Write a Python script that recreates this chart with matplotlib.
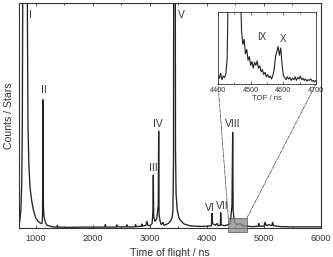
import numpy as np
import matplotlib
matplotlib.use("Agg")
import matplotlib.pyplot as plt
from matplotlib.patches import Rectangle, ConnectionPatch
from matplotlib.ticker import MultipleLocator, NullLocator

plt.rcParams['font.family'] = ['Liberation Sans', 'DejaVu Sans']

# main spectrum (time of flight in ns, normalised counts; >1 means off-scale)
tof = [700, 720, 740, 755, 765, 772, 780, 850, 855, 865, 880, 900, 930, 960, 1000,
       1040, 1080, 1110, 1120, 1127, 1135, 1145, 1170, 1200, 1300, 1370, 1380, 1390,
       1600, 1800, 2000, 2210, 2220, 2230, 2410, 2420, 2430, 2590, 2600, 2610, 2740,
       2750, 2760, 2850, 2860, 2870, 2930, 2950, 2965, 3000, 3040, 3055, 3061, 3068,
       3090, 3120, 3148, 3155, 3162, 3180, 3200, 3230, 3250, 3280, 3320, 3360, 3390,
       3405, 3415, 3420, 3445, 3450, 3460, 3480, 3510, 3550, 3600, 3700, 3800, 3900,
       4000, 4080, 4090, 4098, 4150, 4180, 4200, 4236, 4242, 4250, 4300, 4380, 4410,
       4440, 4452, 4460, 4480, 4520, 4590, 4620, 4700, 4800, 4900, 4910, 4920, 5000,
       5020, 5040, 5080, 5140, 5150, 5170, 5300, 5500, 5700, 6000]
counts = [0.01, 0.03, 0.08, 0.2, 0.45, 1.0, 1.5, 1.5, 0.9, 0.45, 0.28, 0.18, 0.12, 0.08, 0.045,
          0.03, 0.022, 0.02, 0.06, 0.57, 0.10, 0.05, 0.025, 0.012, 0.005, 0.004, 0.012, 0.004,
          0.003, 0.004, 0.004, 0.004, 0.015, 0.004, 0.004, 0.014, 0.005, 0.005, 0.014, 0.005, 0.005,
          0.015, 0.006, 0.008, 0.018, 0.008, 0.012, 0.03, 0.012, 0.01, 0.02, 0.08, 0.235, 0.05,
          0.03, 0.04, 0.1, 0.43, 0.06, 0.03, 0.015, 0.025, 0.012, 0.015, 0.02, 0.03, 0.045,
          0.08, 0.3, 1.5, 1.5, 0.35, 0.15, 0.08, 0.045, 0.03, 0.018, 0.01, 0.008, 0.007,
          0.008, 0.01, 0.065, 0.02, 0.012, 0.02, 0.01, 0.012, 0.068, 0.015, 0.01, 0.015, 0.02,
          0.1, 0.425, 0.08, 0.03, 0.015, 0.02, 0.01, 0.008, 0.006, 0.008, 0.02, 0.008, 0.008,
          0.025, 0.01, 0.015, 0.01, 0.025, 0.01, 0.006, 0.005, 0.005, 0.005]

# peak labels
peak_names = ['I', 'II', 'III', 'IV', 'V', 'VI', 'VII', 'VIII']
peak_x = [912, 1145, 3056, 3143, 3546, 4055, 4265, 4458]
peak_y = [0.947, 0.613, 0.267, 0.462, 0.947, 0.089, 0.098, 0.462]

# inset (zoom 4400-4700 ns)
inset_tof = np.arange(4400, 4701, 4)
inset_counts = [0.12, 0.08, 0.15, 0.06, 0.11, 0.09, 0.14, 0.35,
                1.5, 1.5, 1.5, 1.5, 1.5, 1.5, 1.5, 1.5, 1.5, 1.5,
                0.75, 0.55, 0.62, 0.42, 0.48, 0.33, 0.38, 0.26, 0.31, 0.22,
                0.30, 0.26, 0.32, 0.22, 0.25, 0.17, 0.20, 0.13, 0.16, 0.10,
                0.13, 0.09, 0.11, 0.07, 0.12, 0.20, 0.38, 0.45, 0.52, 0.40,
                0.50, 0.28, 0.12, 0.09, 0.06, 0.10, 0.07, 0.09, 0.05, 0.08,
                0.06, 0.10, 0.05, 0.09, 0.07, 0.11, 0.06, 0.08, 0.05, 0.07,
                0.04, 0.06, 0.05, 0.07, 0.04, 0.05, 0.03, 0.05]
inset_names = ['IX', 'X']
inset_x = [4535, 4600]
inset_y = [0.65, 0.62]

W, H = 333, 257
fig = plt.figure(figsize=(W / 100, H / 100), dpi=100)
ax = fig.add_axes([18.6 / W, 1 - 228 / H, (321 - 18.6) / W, (228 - 3) / H])
ax.plot(tof, counts, color='#222222', lw=0.95)
ax.set_xlim(700, 6000)
ax.set_ylim(0, 1)
ax.xaxis.set_major_locator(MultipleLocator(1000))
ax.xaxis.set_minor_locator(MultipleLocator(500))
ax.yaxis.set_major_locator(NullLocator())
ax.tick_params(axis='x', which='both', direction='in', top=True, labelsize=6.6,
               length=2.5, width=0.6, pad=4, colors='#333333')
ax.tick_params(axis='x', which='minor', length=1.5)
for s in ax.spines.values():
    s.set_linewidth(0.8)
    s.set_color('#333333')
ax.set_xlabel('Time of flight / ns', fontsize=7.6, labelpad=4, color='#333333')
ax.set_ylabel('Counts / Stars', fontsize=7.6, labelpad=3, color='#333333')
for n, x, y in zip(peak_names, peak_x, peak_y):
    ax.text(x, y, n, fontsize=7.4, ha='center', va='center', color='#333333')

rect = Rectangle((4375, -0.019), 330, 0.065, facecolor='#8a8a8a', edgecolor='#444444',
                 lw=0.6, alpha=0.75, clip_on=False, zorder=3)
ax.add_patch(rect)

axin = fig.add_axes([218 / W, 1 - 84 / H, 98 / W, 72 / H])
axin.plot(inset_tof, inset_counts, color='#222222', lw=0.8)
axin.set_xlim(4400, 4700)
axin.set_ylim(0, 1)
axin.xaxis.set_major_locator(MultipleLocator(100))
axin.xaxis.set_minor_locator(MultipleLocator(50))
axin.yaxis.set_major_locator(NullLocator())
axin.tick_params(axis='x', which='both', direction='in', top=True, labelsize=5.2,
                 length=2, width=0.5, pad=2, colors='#333333')
axin.tick_params(axis='x', which='minor', length=1.2)
for s in axin.spines.values():
    s.set_linewidth(0.6)
    s.set_color('#333333')
axin.set_xlabel('TOF / ns', fontsize=5.6, labelpad=1, color='#333333')
for n, x, y in zip(inset_names, inset_x, inset_y):
    axin.text(x, y, n, fontsize=7, ha='center', va='center', color='#333333')

for xa, xb in [(4375, 4400), (4705, 4700)]:
    con = ConnectionPatch(xyA=(xa, 0.046), coordsA=ax.transData,
                          xyB=(xb, 0), coordsB=axin.transData,
                          linestyle=(0, (4, 1.5, 1, 1.5)), lw=0.5, color='#333333')
    fig.add_artist(con)

fig.savefig('out.png', dpi=100)
